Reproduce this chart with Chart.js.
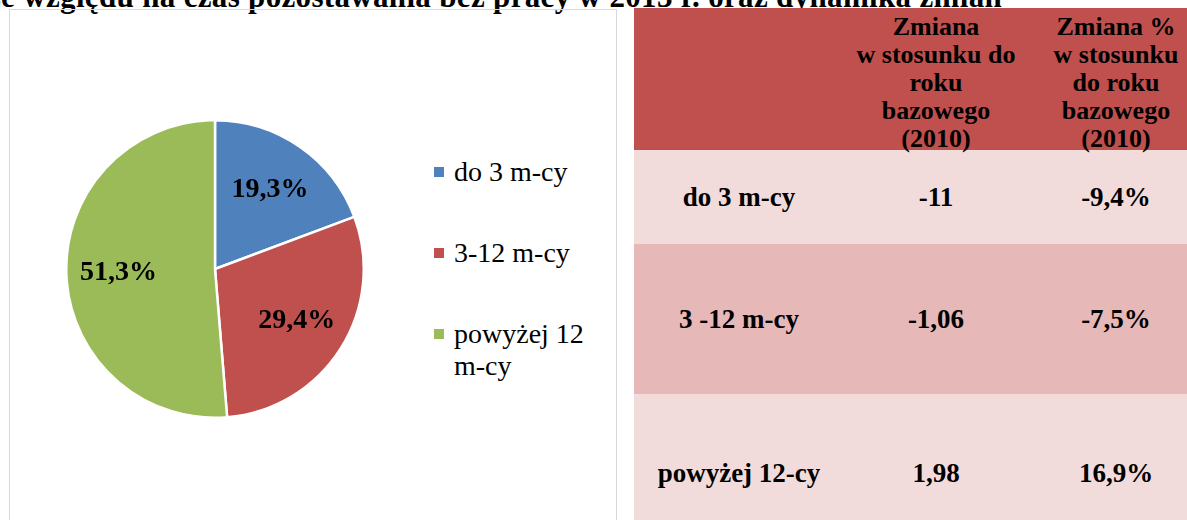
<!DOCTYPE html>
<html>
<head>
<meta charset="utf-8">
<script src="https://cdn.jsdelivr.net/npm/chart.js@4/dist/chart.umd.min.js"></script>
<style>
  html, body { margin: 0; padding: 0; background: #fff; }
  body { width: 1187px; height: 520px; overflow: hidden; position: relative; font-family: "Liberation Serif", serif; }
  #title { position: absolute; left: -20px; top: -19px; font-size: 31px; line-height: 31px; font-weight: bold; white-space: nowrap; color: #000; letter-spacing: 0.33px; }
  #box { position: absolute; left: 9px; top: 9px; width: 606px; height: 530px; border: 1px solid #d9d9d9; }
  #pieWrap { position: absolute; left: 55px; top: 109px; width: 300px; height: 300px; }
  #legend { position: absolute; left: 424px; top: 146px; font-size: 28px; line-height: 32px; color: #000; }
  #legend .item { position: relative; padding-left: 20px; margin-bottom: 49px; width: 180px; }
  #legend .sw { position: absolute; left: 0; top: 11px; width: 10px; height: 10px; }
  table { position: absolute; left: 634px; top: 8px; width: 570px; table-layout: fixed; border-collapse: collapse; font-weight: bold; color: #000; }
  td, th { padding: 0; text-align: center; }
  th { background: #C0504D; font-size: 26px; line-height: 28px; height: 142px; vertical-align: bottom; }
  th div { position: relative; top: 3px; }
  td { font-size: 27px; }
</style>
</head>
<body>
<div id="title">ze względu na czas pozostawania bez pracy w 2013 r. oraz dynamika zmian</div>
<div id="box">
  <div id="pieWrap"><canvas id="pie"></canvas></div>
  <div id="legend"></div>
</div>
<table id="tbl"></table>
<script>
const categories = ["do 3 m-cy", "3-12 m-cy", "powyżej 12 m-cy"];
const shares = [19.3, 29.4, 51.3];
const colors = ["#4F81BD", "#C0504D", "#9BBB59"];

const tableHeaders = ["", "Zmiana<br>w stosunku do<br>roku<br>bazowego<br>(2010)", "Zmiana %<br>w stosunku<br>do roku<br>bazowego<br>(2010)"];
const rowLabels = ["do 3 m-cy", "3 -12 m-cy", "powyżej 12-cy"];
const changeAbs = ["-11", "-1,06", "1,98"];
const changePct = ["-9,4%", "-7,5%", "16,9%"];
const rowColors = ["#F2DCDB", "#E6B8B7", "#F2DCDB"];
const rowHeights = [94, 150, 158];
const colWidths = [210, 184, 176];

// title: right end of "zmian" sits at x=1002
const title = document.getElementById("title");
title.style.left = (1002 - title.offsetWidth) + "px";

// legend
const legend = document.getElementById("legend");
categories.forEach((c, i) => {
    const el = document.createElement("div");
    el.className = "item";
    el.innerHTML = '<span class="sw" style="background:' + colors[i] + '"></span>' +
        (i === 2 ? c.replace("12 m-cy", "12<br>m-cy") : c);
    legend.appendChild(el);
});

// table
const tbl = document.getElementById("tbl");
let html = "<tr>" + tableHeaders.map((h, i) =>
    '<th style="width:' + colWidths[i] + 'px"><div>' + h + "</div></th>").join("") + "</tr>";
rowLabels.forEach((r, i) => {
    html += '<tr style="background:' + rowColors[i] + ';height:' + rowHeights[i] + 'px">' +
        "<td>" + r + "</td><td>" + changeAbs[i] + "</td><td>" + changePct[i] + "</td></tr>";
});
tbl.innerHTML = html;

const sliceLabels = {
    id: "sliceLabels",
    afterDatasetsDraw(chart) {
        const ctx = chart.ctx;
        const meta = chart.getDatasetMeta(0);
        ctx.save();
        ctx.font = "bold 28px 'Liberation Serif'";
        ctx.fillStyle = "#000";
        ctx.textAlign = "center";
        ctx.textBaseline = "middle";
        meta.data.forEach((arc, i) => {
            const mid = (arc.startAngle + arc.endAngle) / 2;
            const r = arc.outerRadius * 0.65;
            ctx.fillText(shares[i].toFixed(1).replace(".", ",") + "%",
                arc.x + Math.cos(mid) * r, arc.y + Math.sin(mid) * r);
        });
        ctx.restore();
    },
};

new Chart(document.getElementById("pie"), {
    type: "pie",
    data: {
        labels: categories,
        datasets: [{
            data: shares,
            backgroundColor: colors,
            borderColor: "#fff",
            borderWidth: 2.5,
        }],
    },
    options: {
        responsive: true,
        maintainAspectRatio: false,
        animation: false,
        layout: { padding: 0 },
        plugins: { legend: { display: false }, tooltip: { enabled: false } },
    },
    plugins: [sliceLabels],
});
</script>
</body>
</html>
